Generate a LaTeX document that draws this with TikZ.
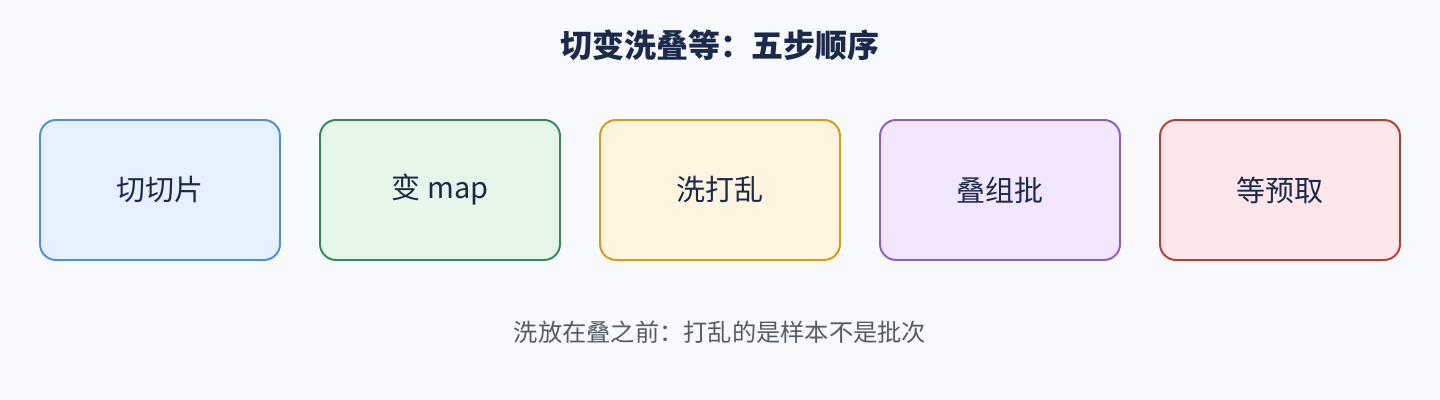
\documentclass[tikz,border=0pt]{standalone}
\usepackage{fontspec}
\setmainfont{Noto Sans CJK SC}
\newfontfamily\cjk{Noto Sans CJK SC}
\usetikzlibrary{positioning}

\definecolor{bgcol}{HTML}{F7F9FC}
\definecolor{inkcol}{HTML}{1B2A4A}
\definecolor{notecol}{HTML}{555B66}
\definecolor{sliceline}{HTML}{4A90E2}
\definecolor{slicefill}{HTML}{E6F0FF}
\definecolor{mapline}{HTML}{2E8B57}
\definecolor{mapfill}{HTML}{E6F7EA}
\definecolor{shufline}{HTML}{D89B0A}
\definecolor{shuffill}{HTML}{FFF4E0}
\definecolor{batchline}{HTML}{8A5CD0}
\definecolor{batchfill}{HTML}{F3E6FF}
\definecolor{fetchline}{HTML}{C0392B}
\definecolor{fetchfill}{HTML}{FDE7EA}

\tikzset{
  stagebox/.style={draw, line width=1.1pt, rounded corners=0.32cm,
    minimum width=4.8cm, minimum height=2.8cm, inner sep=0pt, outer sep=0pt,
    text=inkcol, font=\cjk\fontsize{16.5}{19}\selectfont},
}

\begin{document}
\begin{tikzpicture}
		\fill[bgcol] (0,0) rectangle (28.8,8);
		\useasboundingbox (0,0) rectangle (28.8,8);
		\node[text=inkcol, font=\cjk\bfseries\fontsize{18.2}{21}\selectfont] (title) at (14.4,7.1) {切变洗叠等：五步顺序};
		% the five stages
		\node[stagebox, draw=sliceline, fill=slicefill] (slice) at (3.2,4.2) {切切片};
		\node[stagebox, draw=mapline, fill=mapfill, right=0.8cm of slice] (map) {变 map};
		\node[stagebox, draw=shufline, fill=shuffill, right=0.8cm of map] (shuf) {洗打乱};
		\node[stagebox, draw=batchline, fill=batchfill, right=0.8cm of shuf] (batch) {叠组批};
		\node[stagebox, draw=fetchline, fill=fetchfill, right=0.8cm of batch] (fetch) {等预取};
		\node[text=notecol, font=\cjk\fontsize{13.8}{16}\selectfont] (note) at (14.4,1.36) {洗放在叠之前：打乱的是样本不是批次};
	\end{tikzpicture}
\end{document}
